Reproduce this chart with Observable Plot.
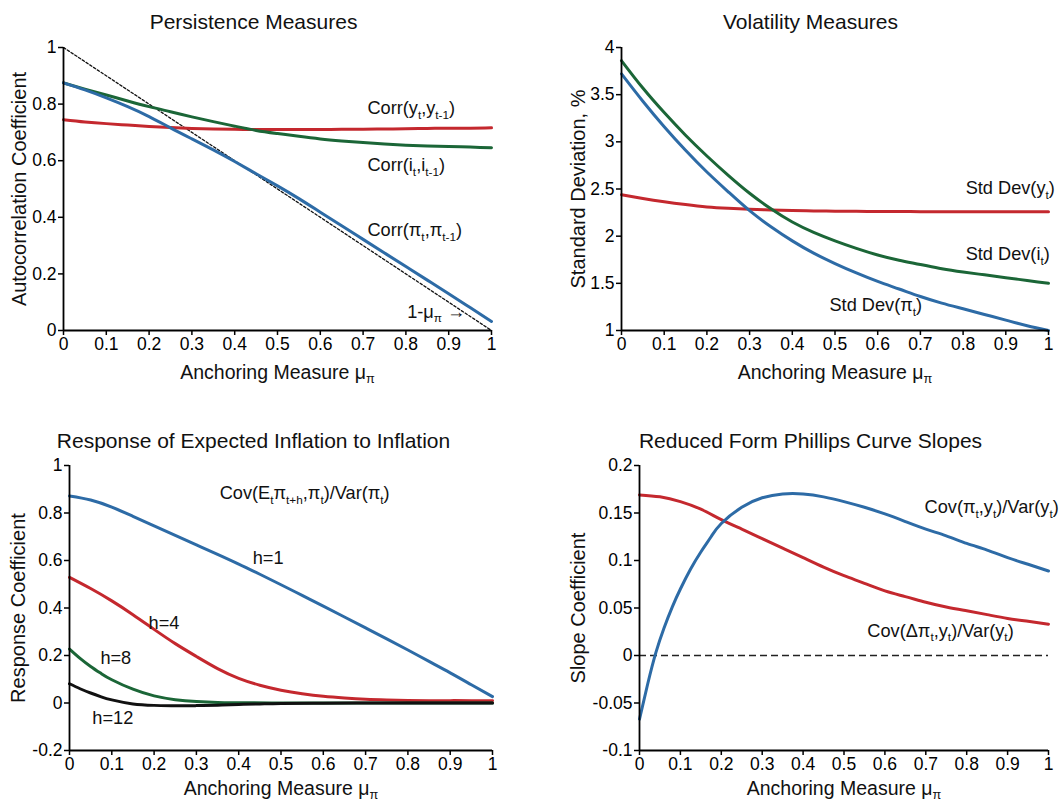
<!DOCTYPE html>
<html><head><meta charset="utf-8">
<script src="https://cdn.jsdelivr.net/npm/d3@7"></script>
<script src="https://cdn.jsdelivr.net/npm/@observablehq/plot@0.6"></script>
<style>
body{margin:0;background:#fff;}
#wrap{position:relative;width:1063px;height:802px;overflow:hidden;background:#fff;}
#wrap svg{position:absolute;overflow:visible;}
</style></head><body><div id="wrap"></div>
<script>
// ---------- shared ----------
const mu = [0,0.05,0.1,0.15,0.2,0.25,0.3,0.35,0.4,0.45,0.5,0.55,0.6,0.65,0.7,0.75,0.8,0.85,0.9,0.95,1];
const xTicks = [0,0.1,0.2,0.3,0.4,0.5,0.6,0.7,0.8,0.9,1];
const xLabel = "Anchoring Measure μ_{π}";

// ---------- panel 1: persistence ----------
const corrPi = [0.875,0.850,0.822,0.791,0.756,0.716,0.677,0.638,0.597,0.554,0.511,0.466,0.418,0.370,0.322,0.274,0.226,0.178,0.130,0.081,0.032];
const corrY  = [0.745,0.737,0.731,0.726,0.721,0.717,0.714,0.712,0.711,0.710,0.710,0.710,0.710,0.711,0.711,0.712,0.713,0.714,0.715,0.715,0.716];
const corrI  = [0.875,0.853,0.832,0.811,0.791,0.773,0.755,0.738,0.722,0.707,0.696,0.686,0.677,0.670,0.664,0.659,0.655,0.652,0.650,0.648,0.646];
const diagX = [0,1];
const diagY = [1,0];
const p1Ticks = [0,0.2,0.4,0.6,0.8,1];
const p1Labels = [
  {x:0.71, y:0.784, t:"Corr(y_{t},y_{t-1})"},
  {x:0.71, y:0.583, t:"Corr(i_{t},i_{t-1})"},
  {x:0.71, y:0.353, t:"Corr(π_{t},π_{t-1})"},
  {x:0.803, y:0.065, t:"1-μ_{π} →"}
];

// ---------- panel 2: volatility ----------
const sdPi = [3.72,3.43,3.16,2.91,2.68,2.47,2.27,2.10,1.95,1.82,1.71,1.61,1.52,1.44,1.36,1.29,1.23,1.17,1.11,1.05,1.0];
const sdI  = [3.86,3.57,3.31,3.07,2.85,2.645,2.455,2.29,2.15,2.04,1.95,1.87,1.80,1.745,1.70,1.655,1.62,1.59,1.56,1.53,1.50];
const sdY  = [2.44,2.40,2.365,2.335,2.31,2.295,2.285,2.278,2.272,2.268,2.265,2.263,2.262,2.261,2.26,2.26,2.26,2.26,2.26,2.26,2.26];
const p2Ticks = [1,1.5,2,2.5,3,3.5,4];
const p2Labels = [
  {x:0.806, y:2.505, t:"Std Dev(y_{t})"},
  {x:0.806, y:1.806, t:"Std Dev(i_{t})"},
  {x:0.487, y:1.265, t:"Std Dev(π_{t})"}
];

// ---------- panel 3: response of expected inflation ----------
const h1 = [0.872,0.855,0.825,0.786,0.746,0.706,0.666,0.626,0.585,0.542,0.498,0.453,0.408,0.362,0.316,0.27,0.223,0.175,0.127,0.077,0.027];
const h4 = [0.529,0.482,0.43,0.372,0.31,0.25,0.196,0.145,0.104,0.075,0.054,0.039,0.028,0.021,0.016,0.013,0.011,0.010,0.010,0.010,0.010];
const h8x = [0,0.025,0.05,0.075,0.1,0.15,0.2,0.25,0.3,0.35,0.4,0.5,0.6,0.7,0.8,0.9,1];
const h8  = [0.227,0.188,0.154,0.124,0.098,0.058,0.030,0.014,0.006,0.002,0.001,0,0,0,0,0,0];
const h12x = [0,0.025,0.05,0.075,0.1,0.15,0.2,0.25,0.3,0.35,0.4,0.45,0.5,0.6,0.7,0.8,0.9,1];
const h12  = [0.081,0.06,0.042,0.026,0.013,-0.004,-0.010,-0.012,-0.011,-0.009,-0.006,-0.004,-0.002,-0.001,0,0,0,0];
const p3Ticks = [-0.2,0,0.2,0.4,0.6,0.8,1];
const p3Labels = [
  {x:0.355, y:0.882, t:"Cov(E_{t}π_{t+h},π_{t})/Var(π_{t})"},
  {x:0.433, y:0.608, t:"h=1"},
  {x:0.187, y:0.335, t:"h=4"},
  {x:0.073, y:0.187, t:"h=8"},
  {x:0.054, y:-0.065, t:"h=12"}
];

// ---------- panel 4: Phillips curve slopes ----------
const pcBlueX = [0,0.02,0.04,0.06,0.08,0.1,0.125,0.15,0.175,0.2,0.25,0.3,0.35,0.4,0.45,0.5,0.55,0.6,0.65,0.7,0.75,0.8,0.85,0.9,0.95,1];
const pcBlue  = [-0.067,-0.030,0.003,0.029,0.051,0.070,0.091,0.109,0.125,0.139,0.156,0.166,0.170,0.170,0.167,0.162,0.156,0.149,0.141,0.133,0.126,0.118,0.111,0.103,0.096,0.089];
const pcRed   = [0.169,0.167,0.162,0.154,0.143,0.133,0.123,0.113,0.103,0.093,0.084,0.076,0.068,0.062,0.056,0.051,0.047,0.043,0.039,0.036,0.033];
const p4Ticks = [-0.1,-0.05,0,0.05,0.1,0.15,0.2];
const p4Labels = [
  {x:0.697, y:0.156, t:"Cov(π_{t},y_{t})/Var(y_{t})"},
  {x:0.557, y:0.026, t:"Cov(Δπ_{t},y_{t})/Var(y_{t})"}
];

// ---------- styling ----------
const FONT = "'Liberation Sans', Arial, Helvetica, sans-serif";
const BLUE = "#2d6ba6", RED = "#c4282e", GREEN = "#1b6637", BLACK = "#111";
const LW = 3;

function series(xs, ys, stroke) {
  return Plot.lineY(ys, {x: xs, stroke, strokeWidth: LW, curve: "natural"});
}

function panel(o) {
  const {left, top, width, height, ml, mr, mt, mb, ydomain, yticks, lines, labels, title, titleX, titleY, ylabel, ylabelX, xlabelY, extra = []} = o;
  const svg = Plot.plot({
    width, height,
    marginLeft: ml, marginRight: mr, marginTop: mt, marginBottom: mb,
    x: {domain: [0, 1], label: null},
    y: {domain: ydomain, label: null},
    style: {fontFamily: FONT, fontSize: "17px", color: "#000", background: "transparent", overflow: "visible"},
    marks: [
      ...extra,
      ...lines,
      Plot.ruleX([0], {stroke: "#000", strokeWidth: 1.8}),
      Plot.ruleY([ydomain[0]], {stroke: "#000", strokeWidth: 1.8}),
      Plot.axisX({ticks: xTicks, tickFormat: d => String(d), tickSize: 5, tickPadding: 2, fontSize: 17.5, strokeWidth: 1.5}),
      Plot.axisY({ticks: yticks, tickFormat: d => String(d), tickSize: 5, tickPadding: 2, fontSize: 17.5, strokeWidth: 1.5}),
      Plot.text(labels, {x: "x", y: "y", text: "t", textAnchor: "start", lineAnchor: "middle", fontSize: 18.2, fill: "#111"}),
      Plot.text([title], {text: d => d, frameAnchor: "top-left", dx: titleX - ml, dy: titleY - mt, textAnchor: "middle", lineAnchor: "middle", fontSize: 21, fill: "#111"}),
      Plot.text([ylabel], {text: d => d, frameAnchor: "left", dx: ylabelX - ml, rotate: -90, textAnchor: "middle", lineAnchor: "middle", fontSize: 20, fill: "#111"}),
      Plot.text([xLabel], {text: d => d, frameAnchor: "bottom", dy: xlabelY - (height - mb), textAnchor: "middle", lineAnchor: "middle", fontSize: 19.5, fill: "#111"})
    ]
  });
  svg.style.left = left + "px";
  svg.style.top = top + "px";
  document.getElementById("wrap").appendChild(svg);
  subscriptify(svg);
  return svg;
}

function subscriptify(svg) {
  const NS = "http://www.w3.org/2000/svg";
  svg.querySelectorAll("text").forEach(t => {
    const s = t.textContent;
    if (!s.includes("_")) return;
    const parts = [];
    let i = 0, buf = "";
    while (i < s.length) {
      if (s[i] === "_") {
        if (buf) parts.push({t: buf, sub: false});
        buf = "";
        i++;
        let sub = "";
        if (s[i] === "{") { i++; while (i < s.length && s[i] !== "}") sub += s[i++]; i++; }
        else sub = s[i++];
        parts.push({t: sub, sub: true});
      } else buf += s[i++];
    }
    if (buf) parts.push({t: buf, sub: false});
    const fs = parseFloat(getComputedStyle(t).fontSize) || 17;
    const shift = +(fs * 0.24).toFixed(1);
    while (t.firstChild) t.removeChild(t.firstChild);
    let down = false;
    parts.forEach(p => {
      const ts = document.createElementNS(NS, "tspan");
      ts.textContent = p.t;
      if (p.sub) {
        ts.setAttribute("font-size", (fs * 0.65).toFixed(1));
        if (!down) { ts.setAttribute("dy", shift); down = true; }
      } else if (down) {
        ts.setAttribute("dy", -shift); down = false;
      }
      t.appendChild(ts);
    });
  });
}

// Panel 1
panel({
  left: 0, top: 0, width: 530, height: 400, ml: 63, mr: 39, mt: 47, mb: 70,
  ydomain: [0, 1], yticks: p1Ticks,
  extra: [Plot.line(diagY, {x: diagX, y: d => d, stroke: "#111", strokeWidth: 1.3, strokeDasharray: "2.5,2"})],
  lines: [series(mu, corrY, RED), series(mu, corrI, GREEN), series(mu, corrPi, BLUE)],
  labels: p1Labels,
  title: "Persistence Measures", titleX: 253, titleY: 22,
  ylabel: "Autocorrelation Coefficient", ylabelX: 19, xlabelY: 372
});

// Panel 2
panel({
  left: 530, top: 0, width: 533, height: 400, ml: 91, mr: 15, mt: 47, mb: 70,
  ydomain: [1, 4], yticks: p2Ticks,
  lines: [series(mu, sdY, RED), series(mu, sdI, GREEN), series(mu, sdPi, BLUE)],
  labels: p2Labels,
  title: "Volatility Measures", titleX: 280, titleY: 22,
  ylabel: "Standard Deviation, %", ylabelX: 48, xlabelY: 372
});

// Panel 3
panel({
  left: 0, top: 400, width: 530, height: 402, ml: 69, mr: 38, mt: 65, mb: 52,
  ydomain: [-0.2, 1], yticks: p3Ticks,
  lines: [series(mu, h1, BLUE), series(mu, h4, RED), series(h8x, h8, GREEN), series(h12x, h12, BLACK)],
  labels: p3Labels,
  title: "Response of Expected Inflation to Inflation", titleX: 253, titleY: 41,
  ylabel: "Response Coefficient", ylabelX: 18, xlabelY: 388
});

// Panel 4
panel({
  left: 530, top: 400, width: 533, height: 402, ml: 109, mr: 15, mt: 65, mb: 52,
  ydomain: [-0.1, 0.2], yticks: p4Ticks,
  extra: [Plot.ruleY([0], {x1: 0, x2: 1, stroke: "#222", strokeWidth: 1.3, strokeDasharray: "7,4"})],
  lines: [series(mu, pcRed, RED), series(pcBlueX, pcBlue, BLUE)],
  labels: p4Labels,
  title: "Reduced Form Phillips Curve Slopes", titleX: 280, titleY: 41,
  ylabel: "Slope Coefficient", ylabelX: 48, xlabelY: 388
});
</script>
</body></html>
